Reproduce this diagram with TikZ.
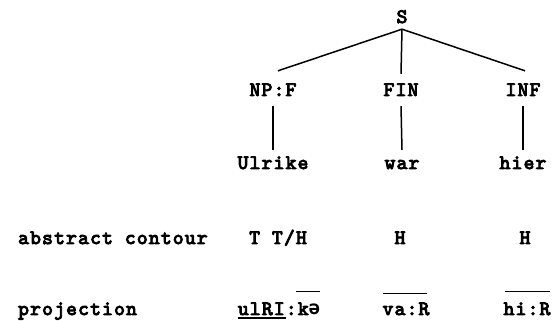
\documentclass[tikz,border=0pt]{standalone}
\usepackage{fontspec}
\newfontfamily\typ{lmmono10-regular.otf}[LetterSpace=6, FakeBold=4.5]
\newfontfamily\ipafont{DejaVu Sans Mono Bold}
\usetikzlibrary{calc}
\begin{document}
\begin{tikzpicture}[x=1pt,y=1pt,
  lbl/.style={font=\typ\fontsize{20.5}{20}\selectfont, inner sep=0pt, text height=12pt, text depth=4pt, anchor=base},
  branch/.style={line width=1.5pt},
  bar/.style={line width=1.2pt}
]
\useasboundingbox (0,0) rectangle (557,321);
% partial label at the left edge
\node[lbl, anchor=center, text height=, text depth=] (num) at (-3,304) {)};
% tree
\node[lbl] (S) at (402,298) {S};
\node[lbl] (np) at (273,225) {NP:F};
\node[lbl] (fin) at (401,225) {FIN};
\node[lbl] (inf) at (523,225) {INF};
\node[lbl] (ul) at (273,152) {Ulrike};
\node[lbl] (war) at (402,152) {war};
\node[lbl] (hier) at (523,152) {hier};
\coordinate (Sb) at ($(S.south)+(0,-2)$);
\draw[branch] (Sb) -- ($(np.north)+(5,13)$);
\draw[branch] (Sb) -- ($(fin.north)+(0,10)$);
\draw[branch] (Sb) -- ($(inf.north)+(2,13)$);
\draw[branch] ($(np.south)+(0,-6)$) -- ($(ul.north)+(0,7)$);
\draw[branch] ($(fin.south)+(0,-6)$) -- ($(war.north)+(0,7)$);
\draw[branch] ($(inf.south)+(0,-6)$) -- ($(hier.north)+(0,7)$);
% rows
\node[lbl, anchor=base west] (abs) at (18,77) {abstract contour};
\node[lbl] (t1) at (278,77) {T T/H};
\node[lbl] (t2) at (400,77) {H};
\node[lbl] (t3) at (525,77) {H};
\node[lbl, anchor=base west] (proj) at (18,6) {projection};
\node[lbl] (p1) at (279,6) {ulRI:k{\ipafont\fontsize{19}{19}\selectfont ə}};
\node[lbl] (p2) at (406,6) {va:R};
\node[lbl] (p3) at (527,6) {hi:R};
\draw[bar] ($(p1.north east)+(-24,11)$) -- ($(p1.north east)+(0,11)$);
\draw[bar] ($(p1.base west)+(0,-3)$) -- ($(p1.base west)+(48,-3)$);
\draw[bar] ($(p2.north west)+(1,9)$) -- ($(p2.north east)+(-3,9)$);
\draw[bar] ($(p3.north west)+(2,11)$) -- ($(p3.north east)+(-1,11)$);
\end{tikzpicture}
\end{document}
